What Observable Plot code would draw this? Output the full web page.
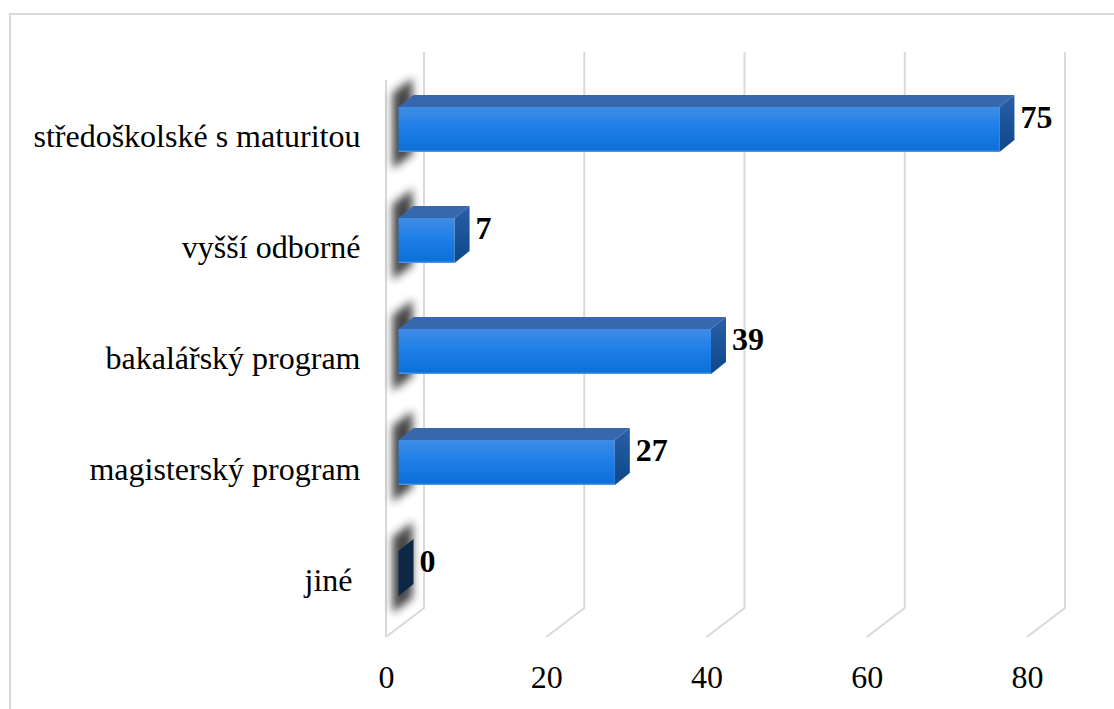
<!DOCTYPE html>
<html>
<head>
<meta charset="utf-8">
<script src="https://cdn.jsdelivr.net/npm/d3@7"></script>
<script src="https://cdn.jsdelivr.net/npm/@observablehq/plot@0.6"></script>
<style>
  html, body { margin: 0; padding: 0; background: #fff; overflow: hidden; }
  #wrap { position: relative; width: 1114px; height: 709px; }
  #frame { position: absolute; left: 9px; top: 13px; width: 1200px; height: 800px;
           border: 2px solid #d9d9d9; pointer-events: none; box-sizing: border-box; }
</style>
</head>
<body>
<div id="wrap"><div id="frame"></div></div>
<script>
// ---- data ----
const categories = ["středoškolské s maturitou", "vyšší odborné", "bakalářský program", "magisterský program", "jiné\u00a0"];
const counts = [75, 7, 39, 27, 0];
const xTicks = [0, 20, 40, 60, 80];

const data = categories.map((c, i) => ({category: c, value: counts[i]}));

// 3D geometry (pixels)
const WALL_DX = 38, WALL_DY = 29;   // depth of the chart box
const FX = 12.5, FY = 26, FH = 45;  // bar front face offset & height within band
const DX = 15, DY = 12;             // bar depth

const font = '"Liberation Serif", "Times New Roman", serif';

function gridRender(index, scales, values, dims) {
  const g = d3.create("svg:g");
  const top = dims.marginTop, bottom = dims.height - dims.marginBottom;
  for (const i of index) {
    const x = values.x[i];
    const path = d3.path();
    if (xTicks[i] === 0) { path.moveTo(x, top); path.lineTo(x, bottom); }
    path.moveTo(x + WALL_DX, top - WALL_DY + 1);
    path.lineTo(x + WALL_DX, bottom - WALL_DY);
    path.lineTo(x, bottom);
    g.append("path").attr("d", path.toString())
      .attr("fill", "none").attr("stroke", "#d9d9d9").attr("stroke-width", 2);
  }
  return g.node();
}

function barRender(index, scales, values, dims) {
  const g = d3.create("svg:g");
  const defs = g.append("defs");
  defs.append("filter").attr("id", "shBlur").attr("x", "-100%").attr("y", "-50%")
    .attr("width", "300%").attr("height", "200%")
    .append("feGaussianBlur").attr("stdDeviation", 4.5);
  const gf = defs.append("linearGradient").attr("id", "gFront").attr("x1", 0).attr("y1", 0).attr("x2", 0).attr("y2", 1);
  gf.append("stop").attr("offset", "0").attr("stop-color", "#3f8de6");
  gf.append("stop").attr("offset", "0.45").attr("stop-color", "#1f7fe8");
  gf.append("stop").attr("offset", "0.95").attr("stop-color", "#0d6fd8");
  gf.append("stop").attr("offset", "1").attr("stop-color", "#5c9ee6");
  const gr = defs.append("linearGradient").attr("id", "gRight").attr("x1", 0).attr("y1", 0).attr("x2", 0).attr("y2", 1);
  gr.append("stop").attr("offset", "0").attr("stop-color", "#2a5fa6");
  gr.append("stop").attr("offset", "1").attr("stop-color", "#0c4889");

  // shadows
  for (const i of index) {
    const x0 = values.x1[i] + FX, yT = values.y[i] + FY, yB = yT + FH;
    g.append("path")
      .attr("d", `M${x0 - 6},${yT - 14}L${x0 + 14},${yT - 29}L${x0 + 14},${yB + 2}L${x0 - 6},${yB + 17}Z`)
      .attr("fill", "#262626").attr("opacity", 0.85).attr("filter", "url(#shBlur)");
  }
  for (const i of index) {
    const x0 = values.x1[i] + FX, x1 = values.x2[i] + FX;
    const yT = values.y[i] + FY, yB = yT + FH;
    const w = x1 - x0;
    if (w > 0.5) {
      g.append("rect").attr("x", x0).attr("y", yT).attr("width", w).attr("height", FH)
        .attr("fill", "url(#gFront)");
      g.append("path")
        .attr("d", `M${x0},${yT}L${x0 + DX},${yT - DY}L${x1 + DX},${yT - DY}L${x1},${yT}Z`)
        .attr("fill", "#3768ad");
    }
    g.append("path")
      .attr("d", `M${x1},${yT}L${x1 + DX},${yT - DY}L${x1 + DX},${yB - DY}L${x1},${yB}Z`)
      .attr("fill", w > 0.5 ? "url(#gRight)" : "#0d2746");
  }
  return g.node();
}

const chart = Plot.plot({
  width: 1114,
  height: 709,
  marginLeft: 386,
  marginRight: 87,
  marginTop: 80,
  marginBottom: 72,
  style: {fontFamily: font, background: "transparent", color: "#000", overflow: "visible"},
  x: {domain: [0, 80], label: null},
  y: {domain: categories, padding: 0, label: null},
  marks: [
    Plot.ruleX(xTicks, {x: d => d, render: gridRender}),
    Plot.barX(data, {x: "value", y: "category", render: barRender}),
    Plot.text(data, {x: "value", y: "category", text: d => String(d.value), textAnchor: "start",
      dx: 33, dy: -19, fontSize: 32, fontWeight: "bold", fill: "#000"}),
    Plot.axisX({ticks: xTicks, tickSize: 0, tickPadding: 28, fontSize: 32, label: null, tickFormat: d => String(d)}),
    Plot.axisY({tickSize: 0, tickPadding: 26, fontSize: 32, label: null})
  ]
});
document.getElementById("wrap").prepend(chart);
</script>
</body>
</html>
